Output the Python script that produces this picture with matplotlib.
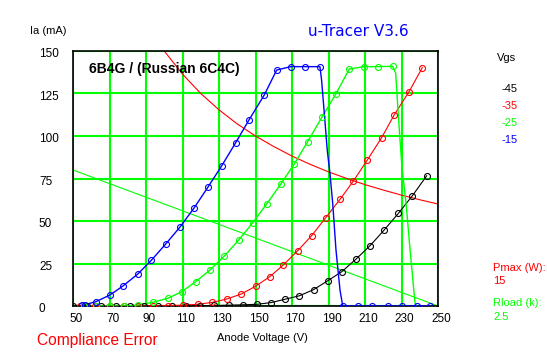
import numpy as np
import matplotlib
matplotlib.use("Agg")
import matplotlib.pyplot as plt
from matplotlib.transforms import ScaledTranslation

plt.rcParams['font.family'] = ['Liberation Sans', 'DejaVu Sans']

# --- data ---
# Vgs = -45 (black)
blk_x = [50, 57.8, 65.5, 73.3, 81, 88.8, 96.5, 104.3, 112, 119.8, 127.5, 135.3, 143,
         150.8, 158.5, 166.3, 174, 181.8, 189.5, 197.3, 205, 212.8, 220.5, 228.3, 236, 243.8]
blk_y = [0, 0, 0, 0, 0, 0, 0, 0, 0.1, 0.2, 0.3, 0.5, 0.7,
         1.0, 2.0, 4.0, 6.0, 9.6, 14.8, 20.2, 27.5, 35.5, 44.7, 54.5, 64.9, 76.6]

# Vgs = -35 (red)
red_x = [54, 62, 70.3, 78.1, 85.8, 94, 102.2, 110.4, 118.3, 126.2, 134.2, 142.1, 150,
         157.9, 165.2, 173.1, 180.8, 188.5, 196.3, 203.6, 211.3, 219.1, 226, 234.1, 241.4]
red_y = [0, 0, 0, 0, 0, 0, 0.2, 0.5, 1, 2.1, 4.1, 7, 11.6,
         17.3, 24.1, 32.5, 41.4, 52, 62.7, 73.5, 85.9, 99, 112.4, 126, 140.2]

# Vgs = -25 (green), measured points then compliance drop
grn_x = [56, 62.4, 70.3, 78.1, 85.8, 93.7, 101.9, 109.6, 117.2, 125.1, 132.9, 140.8,
         148.5, 156.1, 163.8, 171.1, 178.6, 186.6, 193.9, 201.4, 209.4, 217.3, 225.2]
grn_y = [0, 0, 0, 0, 0.6, 2.2, 4.5, 8.4, 14.3, 21.2, 29.4, 38.8,
         49, 60, 71.6, 83.3, 96.7, 111.4, 124.5, 139.4, 140.8, 140.8, 141]
grn_drop_x = [226.8, 228.1, 229.2, 230.4, 232.5, 234.7, 237.4, 238.3]
grn_drop_y = [137, 115, 97.6, 80, 60.4, 33, 1.8, 0]

# Vgs = -15 (blue), measured points, compliance drop, tail
blu_x = [55, 56.5, 62.5, 70.3, 77.4, 85.5, 93, 101, 108.6, 116.3, 124, 131.5,
         139.1, 146.4, 154.8, 161.6, 169.3, 177, 185.3]
blu_y = [0.5, 0.8, 2.5, 6.5, 11.8, 18.8, 27, 36.7, 46.4, 57.6, 70, 82.5,
         96, 109.4, 124.1, 138.8, 140.8, 140.8, 140.8]
blu_drop_x = [186.2, 188, 189.3, 190.8, 192.3, 194.1, 196.3]
blu_drop_y = [133, 109.4, 91.8, 78, 60.4, 33, 9.4]
blu_tail_x = [197.8, 206.3, 213.7, 222.4, 230.1, 238.3, 245.6]
blu_tail_y = [0, 0, 0, 0, 0, 0, 0]

# Pmax = 15 W hyperbola and Rload = 2.5k load line
pmax_x = [100, 110, 120, 130, 140, 150, 160, 170, 180, 190, 200, 210, 220, 230, 240, 250]
pmax_y = [150, 136.4, 125, 115.4, 107.1, 100, 93.8, 88.2, 83.3, 78.9, 75, 71.4, 68.2, 65.2, 62.5, 60]
load_x = [50, 250]
load_y = [80, 0]

x_ticks = [50, 70, 90, 110, 130, 150, 170, 190, 210, 230, 250]
y_ticks = [0, 25, 50, 75, 100, 125, 150]

GREEN = '#00ff00'
FS = 8

fig = plt.figure(figsize=(5.47, 3.57), dpi=100)
ax = fig.add_axes([73 / 547, 1 - 306 / 357, 365 / 547, 255 / 357])

ax.set_xlim(50, 250)
ax.set_ylim(0, 150)
ax.set_xticks(x_ticks)
ax.set_yticks(y_ticks)
ax.grid(True, color=GREEN, linewidth=1.5)
ax.tick_params(length=0, labelsize=8.5)
ax.tick_params(axis='x', pad=5)
ax.tick_params(axis='y', pad=24.5)
for lab in ax.get_yticklabels():
    lab.set_horizontalalignment('left')
    lab.set_transform(lab.get_transform() + ScaledTranslation(0, -2 / 100, fig.dpi_scale_trans))
for lab in ax.get_xticklabels():
    lab.set_transform(lab.get_transform() + ScaledTranslation(3 / 100, 0, fig.dpi_scale_trans))
for s in ax.spines.values():
    s.set_color('black')
    s.set_linewidth(1.2)

# load lines
ax.plot(pmax_x, pmax_y, color='red', lw=0.8, zorder=2)
ax.plot(load_x, load_y, color=GREEN, lw=0.8, zorder=2)

mk = dict(marker='o', markersize=4.3, markerfacecolor='none', markeredgewidth=0.8, ls='none', zorder=4)

ax.plot(blk_x, blk_y, color='black', lw=0.8, zorder=3)
ax.plot(blk_x, blk_y, color='black', **mk)

ax.plot(red_x, red_y, color='red', lw=0.8, zorder=3)
ax.plot(red_x, red_y, color='red', **mk)

ax.plot(grn_x + grn_drop_x, grn_y + grn_drop_y, color=GREEN, lw=1.0, zorder=3)
ax.plot(grn_x, grn_y, color=GREEN, **mk)

ax.plot(blu_x + blu_drop_x + blu_tail_x, blu_y + blu_drop_y + blu_tail_y, color='blue', lw=1.0, zorder=3)
ax.plot(blu_x + blu_tail_x, blu_y + blu_tail_y, color='blue', **mk)

fig.text(89 / 547, 1 - 69 / 357, '6B4G / (Russian 6C4C)', fontsize=10, fontweight='bold',
         va='center', ha='left')

# surrounding labels
fig.text(30 / 547, 1 - 31 / 357, 'Ia (mA)', fontsize=FS, va='center', ha='left')
fig.text(358 / 547, 1 - 31 / 357, 'u-Tracer V3.6', fontsize=11, color='blue',
         va='center', ha='center', family=['DejaVu Sans'])
fig.text(262 / 547, 1 - 338 / 357, 'Anode Voltage (V)', fontsize=FS, va='center', ha='center')
fig.text(37 / 547, 1 - 341 / 357, 'Compliance Error', fontsize=11.2, color='red',
         va='center', ha='left')

fig.text(497 / 547, 1 - 58 / 357, 'Vgs', fontsize=FS, va='center', ha='left')
for lbl, col, ypix in [('-45', 'black', 89), ('-35', 'red', 106),
                       ('-25', GREEN, 123), ('-15', 'blue', 140)]:
    fig.text(501 / 547, 1 - ypix / 357, lbl, fontsize=FS, color=col, va='center', ha='left')

fig.text(493 / 547, 1 - 268 / 357, 'Pmax (W):', fontsize=FS, color='red', va='center', ha='left')
fig.text(493 / 547, 1 - 281 / 357, '15', fontsize=FS, color='red', va='center', ha='left')
fig.text(493 / 547, 1 - 303 / 357, 'Rload (k):', fontsize=FS, color=GREEN, va='center', ha='left')
fig.text(493 / 547, 1 - 317 / 357, '2.5', fontsize=FS, color=GREEN, va='center', ha='left')

fig.savefig('out.png', dpi=100, facecolor='white')
